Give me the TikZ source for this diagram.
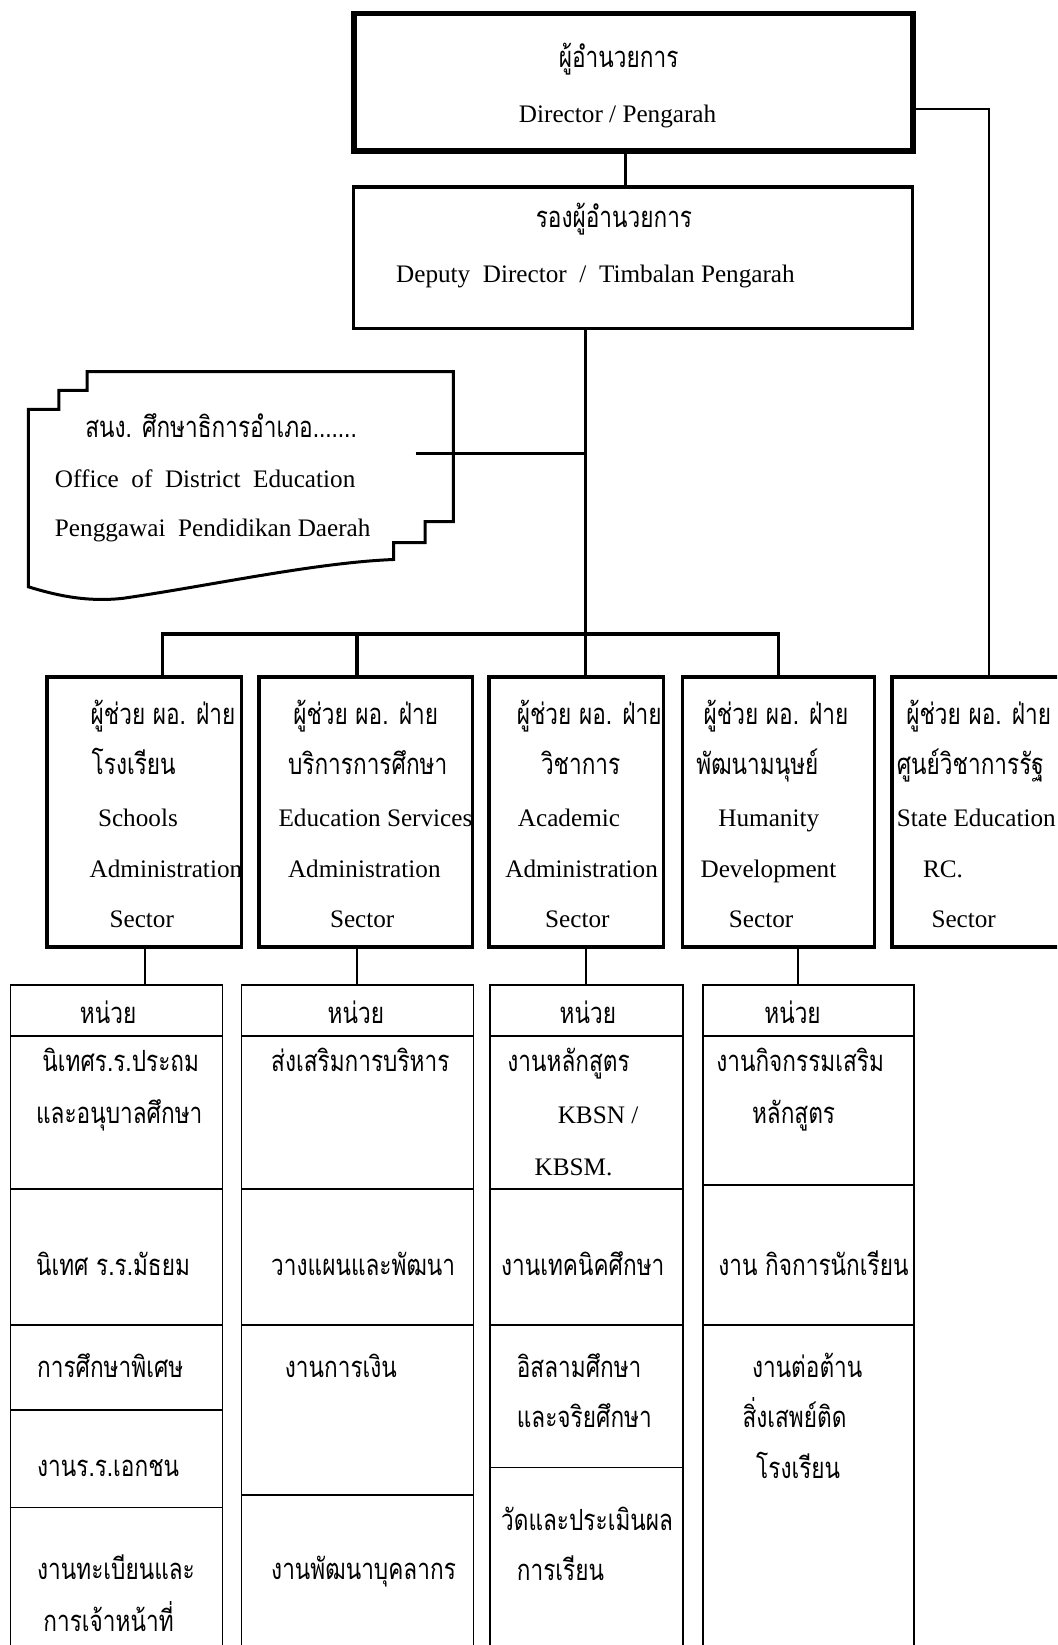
\documentclass[tikz,border=0pt]{standalone}
\usepackage{fontspec}
\setmainfont{Liberation Serif}
\newfontfamily\thaif[Script=Thai,FakeStretch=0.775]{Loma}
\usetikzlibrary{fit}
\tikzset{
  en/.style={anchor=base west, inner sep=0pt, font=\fontsize{12.6}{15}\selectfont},
  tt/.style={anchor=base west, inner sep=0pt, font=\thaif\fontsize{14.6}{17}\selectfont},
  ttc/.style={anchor=base, inner sep=0pt, font=\thaif\fontsize{14.6}{17}\selectfont},
  dirbox/.style={draw, line width=2.8pt, inner sep=0pt},
  depbox/.style={draw, line width=1.7pt, inner sep=0pt},
  secbox/.style={draw, line width=1.8pt, inner sep=0pt},
  unitbox/.style={draw, line width=0.9pt, inner sep=0pt},
  rowline/.style={line width=0.9pt},
  thick conn/.style={line width=1.6pt},
  thin conn/.style={line width=0.8pt},
  side conn/.style={line width=1pt},
}
\begin{document}
\begin{tikzpicture}[x=0.525pt,y=-0.525pt]
\useasboundingbox (0,0) rectangle (1007,1567.1);
\fill[white] (0,0) rectangle (1007,1567.1);
\clip (0,0) rectangle (1007,1567.1);

% top boxes
\node[dirbox, fit={(337,13) (870,144)}] (D) {};
\node[depbox, fit={(337,178) (869,313)}] (Dp) {};
\node[tt] (d1) at (532,64) {ผู้อำนวยการ};
\node[en] (d2) at (494,117) {Director / Pengarah};
\node[tt] (p1) at (510,217) {รองผู้อำนวยการ};
\node[en] (p2) at (377,269) {Deputy\ \ Director\ \ /\ \ Timbalan Pengarah};

% office shape
\draw[line width=1.5pt, line join=miter]
  (83,354) -- (432,354) -- (432,497) -- (405,497) -- (405,517) -- (375,517) -- (375,533)
  .. controls (300,536) and (200,558) .. (117,570)
  .. controls (80,574) and (50,566) .. (27,559)
  -- (27,390) -- (56,390) -- (56,372) -- (83,372) -- cycle;
\node[tt] (o1) at (81,417) {สนง. ศึกษาธิการอำเภอ.......};
\node[en] (o2) at (52,464) {Office\ \ of\ \ District\ \ Education};
\node[en] (o3) at (52,511) {Penggawai\ \ Pendidikan Daerah};

% sector boxes
\node[secbox, fit={(45,645) (230,902)}] (s1) {};
\node[secbox, fit={(247,645) (450,902)}] (s2) {};
\node[secbox, fit={(466,645) (632,902)}] (s3) {};
\node[secbox, fit={(650,645) (833,902)}] (s4) {};
\node[secbox, fit={(850,645) (1075,902)}] (s5) {};

\node[tt] (a1) at (86,690) {ผู้ช่วย ผอ. ฝ่าย};
\node[tt] (a2) at (87,738) {โรงเรียน};
\node[en] (a3) at (93,787) {Schools};
\node[en] (a4) at (85,836) {Administration};
\node[en] (a5) at (104,884) {Sector};

\node[tt] (e1) at (279,690) {ผู้ช่วย ผอ. ฝ่าย};
\node[tt] (e2) at (274,738) {บริการการศึกษา};
\node[en] (e3) at (265,787) {Education Services};
\node[en] (e4) at (274,836) {Administration};
\node[en] (e5) at (314,884) {Sector};

\node[tt] (c1) at (492,690) {ผู้ช่วย ผอ. ฝ่าย};
\node[tt] (c2) at (515,738) {วิชาการ};
\node[en] (c3) at (493,787) {Academic};
\node[en] (c4) at (481,836) {Administration};
\node[en] (c5) at (519,884) {Sector};

\node[tt] (h1) at (670,690) {ผู้ช่วย ผอ. ฝ่าย};
\node[tt] (h2) at (663,738) {พัฒนามนุษย์};
\node[en] (h3) at (684,787) {Humanity};
\node[en] (h4) at (667,836) {Development};
\node[en] (h5) at (694,884) {Sector};

\node[tt] (r1) at (863,690) {ผู้ช่วย ผอ. ฝ่าย};
\node[tt] (r2) at (854,738) {ศูนย์วิชาการรัฐ};
\node[en] (r3) at (854,787) {State Education};
\node[en] (r4) at (879,836) {RC.};
\node[en] (r5) at (887,884) {Sector};

% unit columns
\node[unitbox, fit={(10,938) (212,1580)}] (u1) {};
\node[unitbox, fit={(230,938) (451,1580)}] (u2) {};
\node[unitbox, fit={(467,938) (651,1580)}] (u3) {};
\node[unitbox, fit={(670,938) (871,1580)}] (u4) {};

\foreach \yy in {987,1133,1262,1343,1436} \draw[rowline] (10,\yy) -- (212,\yy);
\foreach \yy in {987,1133,1262,1424} \draw[rowline] (230,\yy) -- (451,\yy);
\foreach \yy in {987,1133,1262,1398} \draw[rowline] (467,\yy) -- (651,\yy);
\foreach \yy in {987,1129,1262} \draw[rowline] (670,\yy) -- (871,\yy);

\node[ttc] (n1) at (103,975) {หน่วย};
\node[ttc] (n2) at (339,975) {หน่วย};
\node[ttc] (n3) at (560,975) {หน่วย};
\node[ttc] (n4) at (755,975) {หน่วย};

\node[tt] (k11) at (40,1021) {นิเทศร.ร.ประถม};
\node[tt] (k12) at (34,1070) {และอนุบาลศึกษา};
\node[tt] (k13) at (34,1215) {นิเทศ ร.ร.มัธยม};
\node[tt] (k14) at (35,1312) {การศึกษาพิเศษ};
\node[tt] (k15) at (35,1407) {งานร.ร.เอกชน};
\node[tt] (k16) at (35,1505) {งานทะเบียนและ};
\node[tt] (k17) at (41,1554) {การเจ้าหน้าที่};

\node[tt] (k21) at (258,1021) {ส่งเสริมการบริหาร};
\node[tt] (k22) at (258,1215) {วางแผนและพัฒนา};
\node[tt] (k23) at (271,1312) {งานการเงิน};
\node[tt] (k24) at (258,1505) {งานพัฒนาบุคลากร};

\node[tt] (k31) at (483,1021) {งานหลักสูตร};
\node[en] (k32) at (531,1070) {KBSN /};
\node[en] (k33) at (509,1120) {KBSM.};
\node[tt] (k34) at (477,1215) {งานเทคนิคศึกษา};
\node[tt] (k35) at (492,1312) {อิสลามศึกษา};
\node[tt] (k36) at (492,1360) {และจริยศึกษา};
\node[tt] (k37) at (477,1458) {วัดและประเมินผล};
\node[tt] (k38) at (492,1506) {การเรียน};

\node[tt] (k41) at (682,1021) {งานกิจกรรมเสริม};
\node[tt] (k42) at (716,1070) {หลักสูตร};
\node[tt] (k43) at (684,1215) {งาน กิจการนักเรียน};
\node[tt] (k44) at (716,1312) {งานต่อต้าน};
\node[tt] (k45) at (707,1360) {สิ่งเสพย์ติด};
\node[tt] (k46) at (720,1408) {โรงเรียน};

% connector coordinates
\coordinate (cx) at (596,0);
\coordinate (rc) at (942,104);
\coordinate (mv) at (558,604);
\coordinate (of) at (396,432);
\coordinate (bus1) at (155,604);
\coordinate (bus2) at (340,604);
\coordinate (bus4) at (742,604);
\coordinate (q1) at (138,0);
\coordinate (q2) at (340,0);
\coordinate (q3) at (558,0);
\coordinate (q4) at (760,0);

% connectors
\draw[line width=1.4pt] (cx |- D.south) -- (cx |- Dp.north);
\draw[side conn] (D.east |- rc) -- (rc) -- (rc |- s5.north);
\draw[thick conn] (mv |- Dp.south) -- (mv |- s3.north);
\draw[thick conn] (of) -- (of -| mv);
\draw[thick conn] (bus1 |- s1.north) -- (bus1) -- (bus4) -- (bus4 |- s4.north);
\draw[thick conn] (bus2) -- (bus2 |- s2.north);
\draw[thin conn] (q1 |- s1.south) -- (q1 |- u1.north);
\draw[thin conn] (q2 |- s2.south) -- (q2 |- u2.north);
\draw[thin conn] (q3 |- s3.south) -- (q3 |- u3.north);
\draw[thin conn] (q4 |- s4.south) -- (q4 |- u4.north);
\end{tikzpicture}
\end{document}
